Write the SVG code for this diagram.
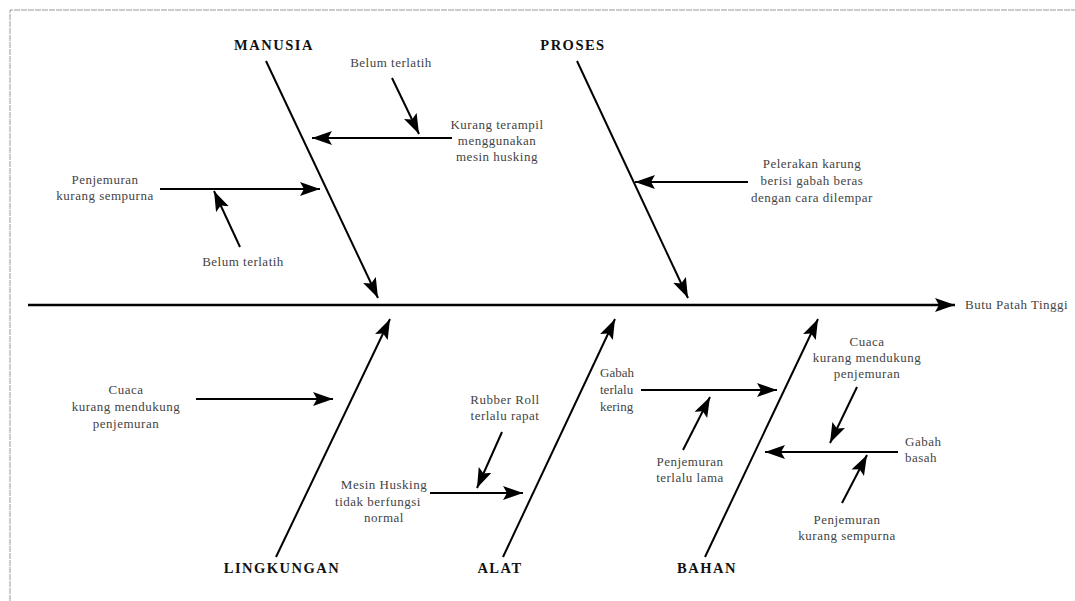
<svg xmlns="http://www.w3.org/2000/svg" width="1075" height="601" viewBox="0 0 1075 601">
<defs>
<marker id="ah" markerUnits="userSpaceOnUse" markerWidth="22" markerHeight="16" refX="20" refY="7" orient="auto"><path d="M0,0 L20,7 L0,14 L4,7 z" fill="#000"/></marker>
<style>
.t{font-family:"Liberation Serif","Times New Roman",serif;font-size:13px;letter-spacing:0.5px;fill:#444;text-anchor:middle}
.tl{font-family:"Liberation Serif","Times New Roman",serif;font-size:13px;letter-spacing:0.5px;fill:#444;text-anchor:start}
.h{font-family:"Liberation Serif","Times New Roman",serif;font-size:14.5px;letter-spacing:1.5px;font-weight:bold;fill:#111;text-anchor:middle}
.bone{stroke:#000;stroke-width:2;fill:none;marker-end:url(#ah)}
.sub{stroke:#000;stroke-width:2;fill:none;marker-end:url(#ah)}
.frame{stroke:#999;stroke-width:1;fill:none;stroke-dasharray:6 1}
</style>
</defs>
<rect width="1075" height="601" fill="#fff"/>
<path class="frame" d="M10,601 L10,10 L1075,10"/>

<g id="connectors">
<line x1="28" y1="305" x2="955" y2="305" stroke="#000" stroke-width="2.5" marker-end="url(#ah)"/>
<line class="bone" x1="266" y1="61" x2="378" y2="298"/>
<line class="bone" x1="577" y1="61" x2="688" y2="298"/>
<line class="bone" x1="276" y1="557" x2="390" y2="319"/>
<line class="bone" x1="503" y1="557" x2="615" y2="319"/>
<line class="bone" x1="705" y1="557" x2="818" y2="319"/>
<line class="sub" x1="452" y1="138" x2="312" y2="138"/>
<line class="sub" x1="392" y1="78" x2="419" y2="134"/>
<line class="sub" x1="160" y1="189" x2="320" y2="189"/>
<line class="sub" x1="240" y1="247" x2="214" y2="191"/>
<line class="sub" x1="748" y1="182" x2="635" y2="182"/>
<line class="sub" x1="196" y1="399" x2="333" y2="399"/>
<line class="sub" x1="430" y1="493" x2="523" y2="493"/>
<line class="sub" x1="502" y1="432" x2="477" y2="488"/>
<line class="sub" x1="641" y1="390" x2="777" y2="390"/>
<line class="sub" x1="683" y1="450" x2="710" y2="397"/>
<line class="sub" x1="857" y1="387" x2="830" y2="443"/>
<line class="sub" x1="898" y1="452" x2="765" y2="452"/>
<line class="sub" x1="842" y1="503" x2="867" y2="455"/>
</g>

<g id="effect"><text class="tl" x="965" y="309">Butu Patah Tinggi</text></g>

<g id="manusia"><text class="h" x="274" y="50">MANUSIA</text></g>
<g id="proses"><text class="h" x="573" y="50">PROSES</text></g>
<g id="lingkungan"><text class="h" x="282" y="573">LINGKUNGAN</text></g>
<g id="alat"><text class="h" x="500" y="573">ALAT</text></g>
<g id="bahan"><text class="h" x="707" y="573">BAHAN</text></g>

<g id="m1"><text class="t" x="391" y="67">Belum terlatih</text></g>
<g id="m2"><text class="t" x="497" y="129">Kurang terampil</text><text class="t" x="497" y="145">menggunakan</text><text class="t" x="497" y="161">mesin husking</text></g>
<g id="m3"><text class="t" x="105" y="184">Penjemuran</text><text class="t" x="105" y="200">kurang sempurna</text></g>
<g id="m4"><text class="t" x="243" y="266">Belum terlatih</text></g>

<g id="p1"><text class="t" x="812" y="168">Pelerakan karung</text><text class="t" x="812" y="185">berisi gabah beras</text><text class="t" x="812" y="202">dengan cara dilempar</text></g>

<g id="l1"><text class="t" x="126" y="394">Cuaca</text><text class="t" x="126" y="411">kurang mendukung</text><text class="t" x="126" y="428">penjemuran</text></g>

<g id="a1"><text class="t" x="505" y="404">Rubber Roll</text><text class="t" x="505" y="420">terlalu rapat</text></g>
<g id="a2"><text class="t" x="384" y="489">Mesin Husking</text><text class="t" x="378" y="506">tidak berfungsi</text><text class="t" x="384" y="522">normal</text></g>

<g id="b1"><text class="tl" x="600" y="377" style="letter-spacing:0">Gabah</text><text class="tl" x="600" y="394" style="letter-spacing:0">terlalu</text><text class="tl" x="600" y="411" style="letter-spacing:0">kering</text></g>
<g id="b2"><text class="t" x="690" y="466">Penjemuran</text><text class="t" x="690" y="482">terlalu lama</text></g>
<g id="b3"><text class="t" x="867" y="346">Cuaca</text><text class="t" x="867" y="362">kurang mendukung</text><text class="t" x="867" y="378">penjemuran</text></g>
<g id="b4"><text class="tl" x="905" y="446">Gabah</text><text class="tl" x="905" y="462">basah</text></g>
<g id="b5"><text class="t" x="847" y="524">Penjemuran</text><text class="t" x="847" y="540">kurang sempurna</text></g>
</svg>
